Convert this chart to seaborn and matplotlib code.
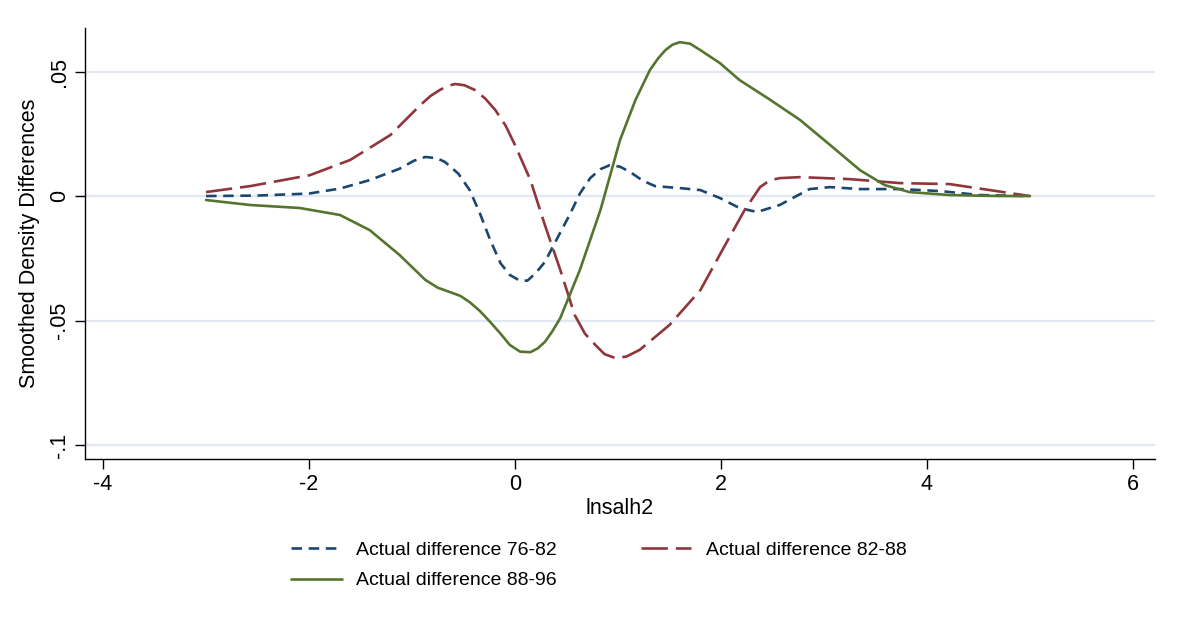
import seaborn as sns
import matplotlib
matplotlib.use('Agg')
import matplotlib.pyplot as plt
import pandas as pd

x_7682 = [-3.0, -2.5, -2.0, -1.7, -1.41, -1.12, -0.98, -0.87, -0.76, -0.68, -0.55, -0.44, -0.34,
          -0.24, -0.14, -0.05, 0.04, 0.12, 0.2, 0.29, 0.41, 0.53, 0.63, 0.73, 0.83, 0.92, 1.02,
          1.12, 1.24, 1.36, 1.60, 1.80, 1.99, 2.18, 2.35, 2.57, 2.86, 3.06, 3.35, 3.74, 4.13,
          4.51, 5.0]
y_7682 = [0.0, 0.0002, 0.001, 0.003, 0.0064, 0.011, 0.0142, 0.0157, 0.0152, 0.0137, 0.009, 0.0024,
          -0.007, -0.0177, -0.027, -0.0317, -0.0338, -0.034, -0.031, -0.0265, -0.017, -0.0076,
          0.001, 0.0072, 0.0108, 0.0124, 0.0118, 0.0096, 0.0062, 0.004, 0.0032, 0.0024, -0.0008,
          -0.0048, -0.0064, -0.0036, 0.0028, 0.0036, 0.0028, 0.0028, 0.002, 0.0004, 0.0]

x_8288 = [-3.0, -2.57, -1.99, -1.60, -1.21, -0.92, -0.82, -0.73, -0.65, -0.58, -0.49, -0.39, -0.29,
          -0.19, -0.09, 0.0, 0.15, 0.29, 0.44, 0.58, 0.68, 0.78, 0.87, 0.97, 1.08, 1.21, 1.50,
          1.80, 2.04, 2.23, 2.38, 2.47, 2.57, 2.77, 3.25, 3.74, 4.22, 4.61, 5.0]
y_8288 = [0.0016, 0.004, 0.0084, 0.0145, 0.0245, 0.0365, 0.0402, 0.0426, 0.0443, 0.045, 0.0445,
          0.0426, 0.0392, 0.0345, 0.0282, 0.0205, 0.0064, -0.0116, -0.0297, -0.0478, -0.0553,
          -0.0598, -0.0635, -0.065, -0.0645, -0.0618, -0.0518, -0.0378, -0.0197, -0.0056, 0.0036,
          0.0062, 0.0072, 0.0076, 0.0068, 0.0052, 0.0048, 0.0024, 0.0]

x_8896 = [-3.0, -2.57, -2.09, -1.70, -1.41, -1.12, -0.87, -0.75, -0.63, -0.53, -0.44, -0.34, -0.24,
          -0.14, -0.05, 0.05, 0.15, 0.22, 0.29, 0.36, 0.44, 0.63, 0.83, 1.02, 1.17, 1.31, 1.39,
          1.46, 1.53, 1.60, 1.70, 1.80, 1.99, 2.18, 2.48, 2.77, 3.06, 3.35, 3.59, 3.83, 4.22,
          4.71, 5.0]
y_8896 = [-0.0016, -0.0036, -0.0048, -0.0076, -0.0137, -0.0237, -0.0337, -0.0368, -0.0386, -0.0401,
          -0.0426, -0.0462, -0.0506, -0.0553, -0.0598, -0.0625, -0.0627, -0.0612, -0.0586, -0.0545,
          -0.049, -0.0297, -0.0056, 0.0225, 0.0386, 0.0506, 0.0553, 0.0586, 0.0608, 0.0618,
          0.0612, 0.0586, 0.0534, 0.0466, 0.0386, 0.0305, 0.0205, 0.0104, 0.0044, 0.0016,
          0.0004, 0.0, 0.0]

labels = ['Actual difference 76-82', 'Actual difference 82-88', 'Actual difference 88-96']
colors = {labels[0]: '#1a476f', labels[1]: '#90353b', labels[2]: '#55752f'}
dashes = {labels[0]: (4, 2.5), labels[1]: (10, 3), labels[2]: ''}

y_ticks = [0.05, 0.0, -0.05, -0.1]
y_ticklabels = ['.05', '0', '-.05', '-.1']
x_ticks = [-4, -2, 0, 2, 4, 6]

# Build a long table for seaborn
frames = []
for lab, xs, ys in zip(labels, [x_7682, x_8288, x_8896], [y_7682, y_8288, y_8896]):
    frames.append(pd.DataFrame({'lnsalh2': xs, 'diff': ys, 'series': lab}))
data = pd.concat(frames, ignore_index=True)

sns.set_style('white')
plt.rcParams['font.family'] = ['Liberation Sans', 'DejaVu Sans']
plt.rcParams['text.color'] = 'black'
plt.rcParams['xtick.color'] = 'black'
plt.rcParams['ytick.color'] = 'black'
plt.rcParams['axes.labelcolor'] = 'black'

fig = plt.figure(figsize=(11.79, 6.26), dpi=100)
ax = fig.add_axes([0.0721, 0.2668, 0.9075, 0.6885])

sns.lineplot(data=data, x='lnsalh2', y='diff', hue='series', style='series',
             palette=colors, dashes=dashes, linewidth=1.9, sort=False, ax=ax, legend=True)

# horizontal grid lines like Stata
for yt in y_ticks:
    ax.axhline(yt, color='#e3e7f1', linewidth=1.6, zorder=0)

ax.set_xlim(-4.175, 6.214)
ax.set_ylim(-0.1056, 0.0675)
ax.set_xticks(x_ticks)
ax.set_xticklabels([str(t) for t in x_ticks], fontsize=15.5)
ax.set_yticks(y_ticks)
ax.set_yticklabels(y_ticklabels, fontsize=15.5, rotation=90, va='center')
ax.tick_params(axis='both', direction='out', length=7, width=1, color='black', pad=4)
ax.tick_params(axis='both', which='both', bottom=True, left=True)

for side in ['top', 'right']:
    ax.spines[side].set_visible(False)
for side in ['left', 'bottom']:
    ax.spines[side].set_color('black')
    ax.spines[side].set_linewidth(1)

ax.set_xlabel('lnsalh2', fontsize=15.5, labelpad=2)
ax.set_ylabel('Smoothed Density Differences', fontsize=15.5, labelpad=6)

# legend filled row by row as in the reference
handles, labs = ax.get_legend_handles_labels()
ax.get_legend().remove()
order = [0, 2, 1]
fig.legend([handles[i] for i in order], [labs[i] for i in order], loc='upper left',
           bbox_to_anchor=(0.232, 0.163), ncol=2, frameon=False, fontsize=14,
           handlelength=2.6, columnspacing=4.3, labelspacing=0.65, handletextpad=0.75)

fig.savefig('out.png', dpi=100, facecolor='white')
